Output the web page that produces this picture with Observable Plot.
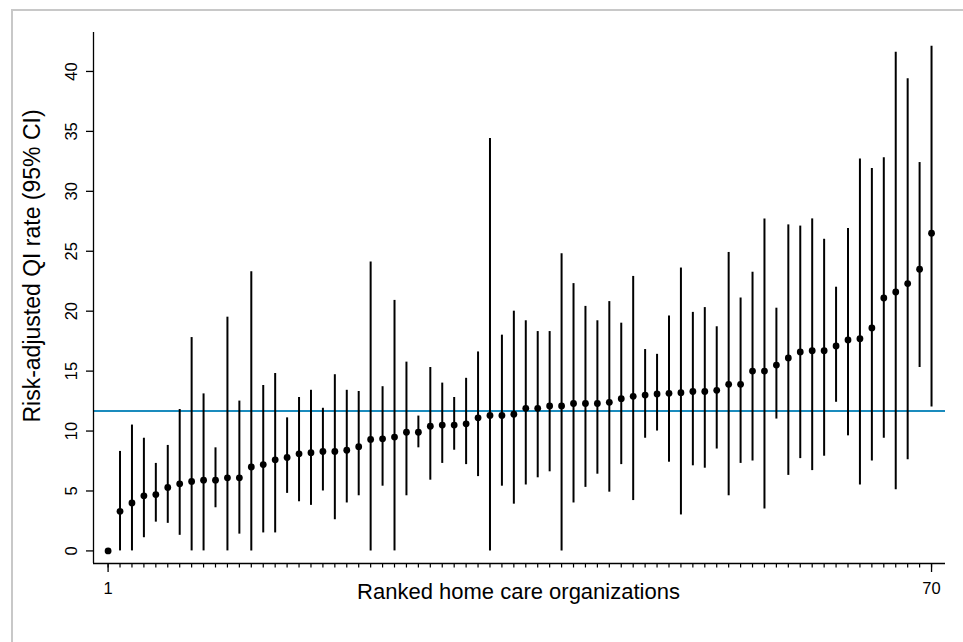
<!DOCTYPE html>
<html>
<head>
<meta charset="utf-8">
<script src="https://cdn.jsdelivr.net/npm/d3@7"></script>
<script src="https://cdn.jsdelivr.net/npm/@observablehq/plot@0.6"></script>
<style>
  html, body { margin: 0; padding: 0; background: #ffffff; }
  #wrap { position: relative; width: 963px; height: 642px; overflow: hidden; }
  #frame { position: absolute; left: 11px; top: 9px; width: 1000px; height: 700px;
           border-left: 2px solid #c8c8c8; border-top: 2px solid #c8c8c8; box-sizing: border-box; }
  #chart { position: absolute; left: 0; top: 0; }
</style>
</head>
<body>
<div id="wrap"><div id="frame"></div><div id="chart"></div></div>
<script>
// Ranked organizations (1..70)
const orgs = d3.range(1, 71);
// Risk-adjusted QI rate estimates
const est = [0, 3.3, 4.0, 4.6, 4.7, 5.3, 5.6, 5.8, 5.9, 5.9,
  6.1, 6.1, 7.0, 7.2, 7.6, 7.8, 8.1, 8.2, 8.3, 8.3,
  8.4, 8.7, 9.3, 9.35, 9.5, 9.9, 9.9, 10.4, 10.5, 10.5,
  10.6, 11.1, 11.3, 11.3, 11.4, 11.9, 11.9, 12.1, 12.1, 12.3,
  12.3, 12.3, 12.4, 12.7, 12.9, 13.0, 13.1, 13.15, 13.2, 13.3,
  13.3, 13.4, 13.9, 13.9, 15.0, 15.0, 15.5, 16.1, 16.6, 16.7,
  16.7, 17.1, 17.6, 17.7, 18.6, 21.1, 21.6, 22.3, 23.5, 26.5];
// Lower 95% CI bounds
const lo = [0, 0, 0, 1.1, 2.4, 2.3, 1.3, 0, 0, 3.6,
  0, 1.4, 0, 1.5, 1.5, 4.8, 4.1, 3.8, 5.0, 2.6,
  4.0, 4.6, 0, 5.4, 0, 4.6, 8.6, 5.9, 7.3, 8.4,
  7.2, 6.2, 0, 5.4, 3.9, 5.5, 6.1, 6.6, 0, 4.0,
  5.3, 6.4, 4.9, 7.2, 4.2, 9.4, 10.0, 7.4, 3.0, 7.1,
  6.9, 8.5, 4.6, 7.3, 7.5, 3.5, 11.0, 6.3, 7.7, 6.7,
  7.9, 12.4, 9.6, 5.5, 7.5, 9.4, 5.1, 7.6, 15.3, 12.0];
// Upper 95% CI bounds
const hi = [0, 8.3, 10.5, 9.4, 7.3, 8.8, 11.8, 17.8, 13.1, 8.6,
  19.5, 12.5, 23.3, 13.8, 14.8, 11.1, 12.8, 13.4, 11.9, 14.7,
  13.4, 13.3, 24.1, 13.7, 20.9, 15.75, 11.25, 15.3, 14.0, 12.8,
  14.4, 16.6, 34.4, 18.0, 20.0, 19.2, 18.3, 18.3, 24.8, 22.3,
  20.4, 19.2, 20.8, 19.0, 22.9, 16.8, 16.4, 19.6, 23.6, 19.9,
  20.3, 18.7, 24.9, 21.1, 23.25, 27.7, 20.25, 27.2, 27.1, 27.7,
  26.0, 22.0, 26.9, 32.7, 31.9, 32.8, 41.6, 39.4, 32.4, 42.1];
// Overall (reference) rate
const overall = 11.67;
// Tick labels
const yTicks = [0, 5, 10, 15, 20, 25, 30, 35, 40];
const xTickLabels = [1, 70];
const xLabel = "Ranked home care organizations";
const yLabel = "Risk-adjusted QI rate (95% CI)";

const data = orgs.map((o, i) => ({org: o, est: est[i], lo: lo[i], hi: hi[i]}));
const xDom = [-0.223, 71.17];
const yDom = [-1.05, 43.25];
const font = "'Liberation Sans', Arial, Helvetica, sans-serif";

const chart = Plot.plot({
  width: 963,
  height: 642,
  marginLeft: 93,
  marginRight: 18,
  marginTop: 32,
  marginBottom: 79,
  style: {fontFamily: font, background: "transparent", color: "black", overflow: "visible"},
  x: {domain: xDom, axis: null},
  y: {domain: yDom, axis: null},
  marks: [
    Plot.ruleY([overall], {stroke: "#1a8bbd", strokeWidth: 2}),
    Plot.ruleX(data.filter(d => d.hi > d.lo), {x: "org", y1: "lo", y2: "hi", stroke: "black", strokeWidth: 2}),
    Plot.dot(data, {x: "org", y: "est", r: 3.4, fill: "black", stroke: "none"}),
    // axis lines
    Plot.ruleX([xDom[0]], {stroke: "black", strokeWidth: 1.3}),
    Plot.ruleY([yDom[0]], {stroke: "black", strokeWidth: 1.3}),
    // y ticks + labels
    Plot.axisY({ticks: yTicks, tickSize: 7, tickFormat: () => "", label: null, strokeWidth: 1.3}),
    Plot.text(yTicks, {y: d => d, text: d => String(d), frameAnchor: "left", dx: -22, rotate: -90,
      textAnchor: "middle", lineAnchor: "middle", fontSize: 16.5, fill: "black"}),
    // x ticks
    Plot.axisX({ticks: orgs, tickSize: 4.5, tickFormat: () => "", label: null, strokeWidth: 1.2}),
    Plot.axisX({ticks: xTickLabels, tickSize: 9, tickFormat: () => "", label: null, strokeWidth: 1.3}),
    Plot.text(xTickLabels, {x: d => d, text: d => String(d), frameAnchor: "bottom", dy: 25,
      textAnchor: "middle", lineAnchor: "middle", fontSize: 16.5, fill: "black"}),
    // axis titles
    Plot.text([xLabel], {frameAnchor: "bottom", dy: 28, dx: -1, lineAnchor: "middle", fontSize: 22, fill: "black"}),
    Plot.text([yLabel], {frameAnchor: "left", dx: -61, dy: -32, rotate: -90, textAnchor: "middle",
      lineAnchor: "middle", fontSize: 23, fill: "black"})
  ]
});
document.getElementById("chart").appendChild(chart);
</script>
</body>
</html>
